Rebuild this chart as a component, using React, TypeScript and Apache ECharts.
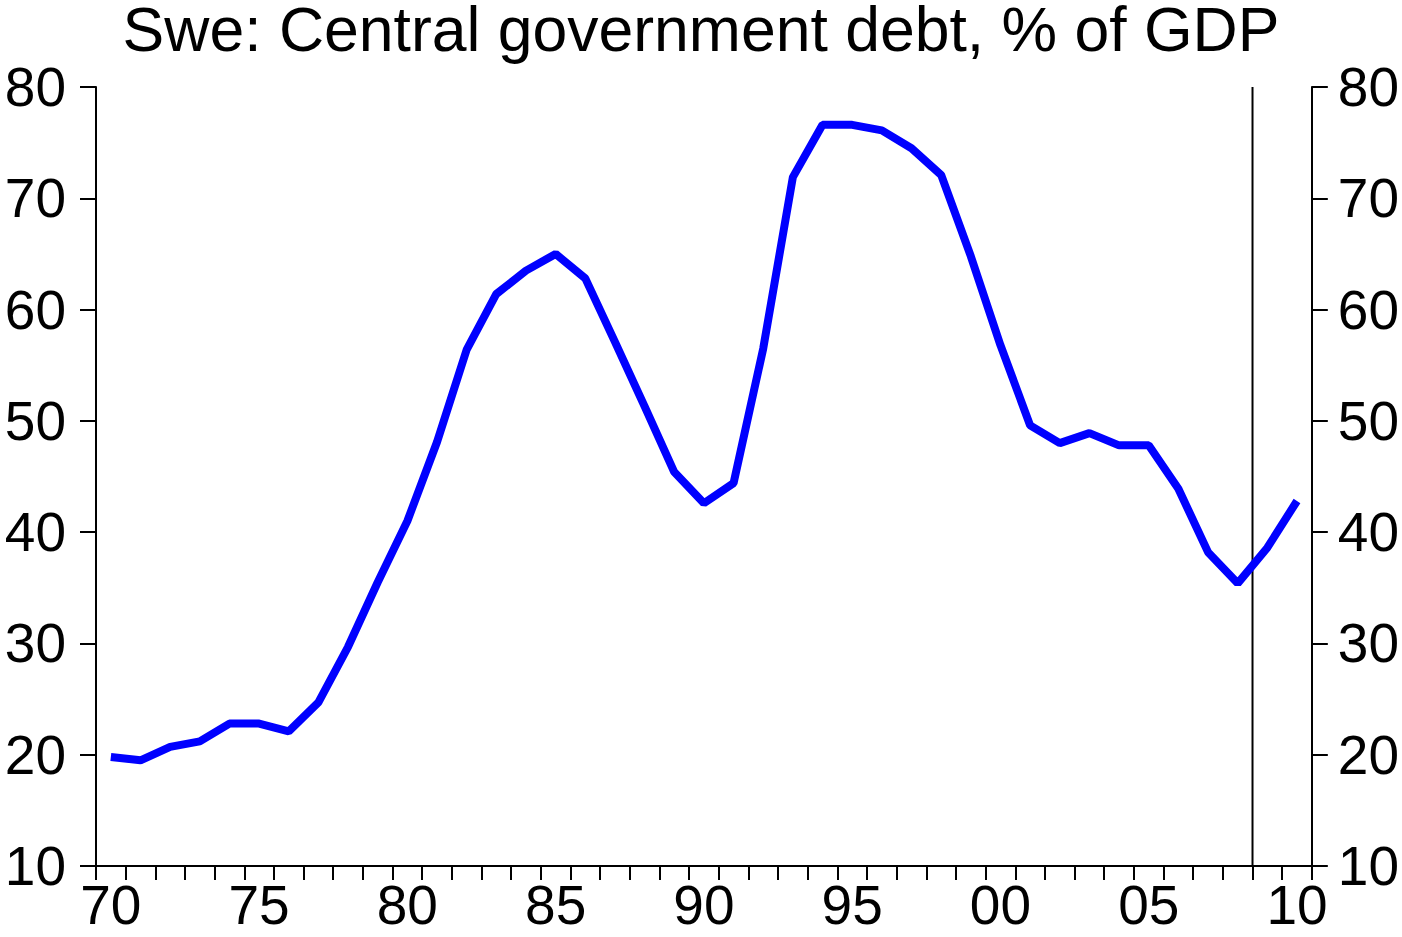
import React, { useEffect, useRef } from "react";
import * as echarts from "echarts";

const titleText = "Swe: Central government debt, % of GDP";
const years: number[] = [
  1970, 1971, 1972, 1973, 1974, 1975, 1976, 1977, 1978, 1979,
  1980, 1981, 1982, 1983, 1984, 1985, 1986, 1987, 1988, 1989,
  1990, 1991, 1992, 1993, 1994, 1995, 1996, 1997, 1998, 1999,
  2000, 2001, 2002, 2003, 2004, 2005, 2006, 2007, 2008, 2009, 2010,
];
const debtPctGdp: number[] = [
  19.8, 19.5, 20.7, 21.2, 22.8, 22.8, 22.1, 24.7, 29.7, 35.5,
  41.0, 48.1, 56.4, 61.4, 63.5, 65.0, 62.8, 57.1, 51.3, 45.4,
  42.6, 44.4, 56.5, 71.9, 76.6, 76.6, 76.1, 74.5, 72.1, 64.8,
  56.8, 49.6, 48.0, 48.9, 47.8, 47.8, 43.9, 38.2, 35.4, 38.6, 42.8,
];
const yMin = 10;
const yMax = 80;
const yStep = 10;
const xStart = 1970;
const xEnd = 2011;
const forecastStart = 2009;
const labelEvery = 5;

const FONT = '"Liberation Sans", Arial, Helvetica, sans-serif';

export default function App() {
  const ref = useRef<HTMLDivElement | null>(null);

  useEffect(() => {
    if (!ref.current) return;
    const chart = echarts.init(ref.current, null, { renderer: "svg" });

    const yAxisCommon = (position: "left" | "right", margin: number) => ({
      type: "value" as const,
      position,
      min: yMin,
      max: yMax,
      interval: yStep,
      axisLine: { show: true, lineStyle: { color: "#000", width: 2 } },
      axisTick: {
        show: true,
        inside: false,
        length: 16,
        lineStyle: { color: "#000", width: 2 },
      },
      axisLabel: {
        color: "#000",
        fontSize: 55,
        fontFamily: FONT,
        margin,
      },
      splitLine: { show: false },
    });

    chart.setOption({
      animation: false,
      backgroundColor: "#fff",
      title: {
        text: titleText,
        left: "center",
        top: 0,
        padding: 0,
        textStyle: {
          color: "#000",
          fontSize: 62.5,
          lineHeight: 58,
          fontWeight: "normal",
          fontFamily: FONT,
        },
      },
      grid: { left: 96, right: 90, top: 87, bottom: 71, containLabel: false },
      xAxis: [
        {
          type: "category",
          data: years.map(String),
          boundaryGap: true,
          axisLine: { show: true, lineStyle: { color: "#000", width: 2 } },
          axisTick: {
            show: true,
            interval: 0,
            inside: false,
            length: 14,
            lineStyle: { color: "#000", width: 2 },
          },
          axisLabel: {
            interval: (i: number) => (years[i] - xStart) % labelEvery === 0,
            formatter: (v: string) => v.slice(2),
            color: "#000",
            fontSize: 55,
            fontFamily: FONT,
            margin: 11,
          },
          splitLine: { show: false },
        },
        {
          type: "value",
          min: xStart,
          max: xEnd,
          show: false,
        },
      ],
      yAxis: [yAxisCommon("left", 30), yAxisCommon("right", 26)],
      series: [
        {
          type: "line",
          xAxisIndex: 1,
          yAxisIndex: 0,
          data: [
            [forecastStart, yMin],
            [forecastStart, yMax],
          ],
          symbol: "none",
          lineStyle: { color: "#000", width: 2 },
          silent: true,
          z: 1,
        },
        {
          type: "line",
          xAxisIndex: 0,
          yAxisIndex: 0,
          data: debtPctGdp,
          symbol: "none",
          lineStyle: { color: "#0000FF", width: 8, join: "bevel" },
          itemStyle: { color: "#0000FF" },
          z: 3,
        },
      ],
    });

    return () => chart.dispose();
  }, []);

  return (
    <div
      ref={ref}
      style={{ position: "absolute", left: 0, top: 0, width: 1402, height: 937 }}
    />
  );
}
